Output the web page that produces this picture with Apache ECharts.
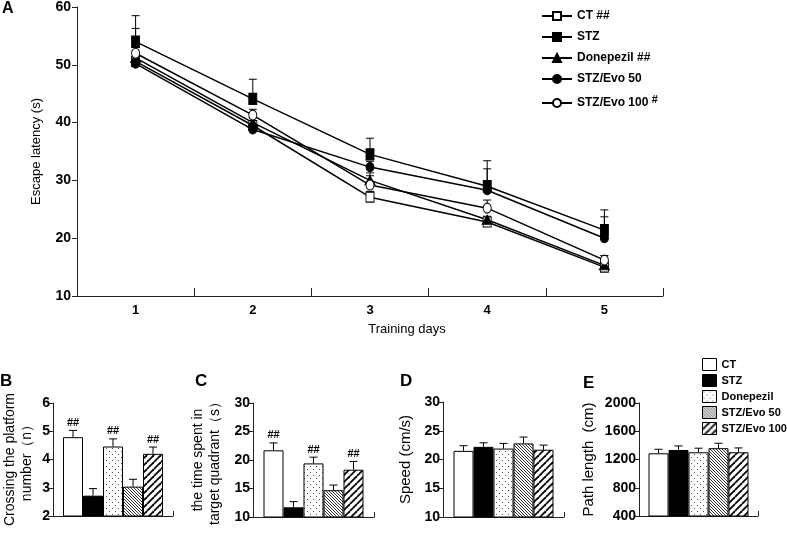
<!DOCTYPE html>
<html>
<head>
<meta charset="utf-8">
<script src="https://cdn.jsdelivr.net/npm/echarts@6/dist/echarts.min.js"></script>
<style>
html, body { margin: 0; padding: 0; background: #fff; }
#chart { width: 787px; height: 535px; }
</style>
</head>
<body>
<div id="chart"></div>
<script>
// groups and the significance marks shown in legend A
var groups = ['CT', 'STZ', 'Donepezil', 'STZ/Evo 50', 'STZ/Evo 100'];
var lineMarks = ['##', '', '##', '', '#'];
var days = ['1', '2', '3', '4', '5'];

// A: escape latency (s) per day, mean and upper error
var latencyCT = [50.6, 39.5, 27.1, 22.8, 15.0];
var latencySTZ = [54.0, 44.1, 34.5, 29.0, 21.4];
var latencyDon = [51.2, 40.0, 30.0, 23.2, 15.3];
var latencyEvo50 = [50.2, 38.8, 32.3, 28.3, 20.0];
var latencyEvo100 = [52.0, 41.3, 29.2, 25.2, 16.2];
var latencyErrCT = [0.8, 0.8, 1.0, 0.6, 0.5];
var latencyErrSTZ = [4.5, 3.4, 2.8, 4.4, 3.5];
var latencyErrDon = [0.8, 0.8, 0.8, 0.6, 0.5];
var latencyErrEvo50 = [6.1, 1.0, 1.0, 3.7, 3.7];
var latencyErrEvo100 = [1.0, 1.0, 2.1, 1.4, 0.8];

// B-E: one value per group
var crossing = [4.79, 2.72, 4.46, 3.04, 4.20];
var crossingErr = [0.24, 0.25, 0.27, 0.26, 0.24];
var crossingMarks = ['##', '', '##', '', '##'];
var quadrantTime = [21.7, 11.7, 19.4, 14.7, 18.3];
var quadrantErr = [1.3, 1.0, 1.1, 0.9, 1.45];
var quadrantMarks = ['##', '', '##', '', '##'];
var speed = [21.5, 22.2, 21.9, 22.8, 21.7];
var speedErr = [0.9, 0.7, 0.9, 1.1, 0.8];
var pathLength = [1288, 1335, 1302, 1360, 1302];
var pathLengthErr = [57, 57, 58, 70, 62];

var latency = [latencyCT, latencySTZ, latencyDon, latencyEvo50, latencyEvo100];
var latencyErr = [latencyErrCT, latencyErrSTZ, latencyErrDon, latencyErrEvo50, latencyErrEvo100];

var FONT = 'Liberation Sans';
var BAR_W = 20;

// hatch / dot fills for the bars
function makePattern(kind) {
  var c = document.createElement('canvas');
  var s = kind === 'dots' ? 6 : (kind === 'back' ? 3 : 7);
  c.width = s; c.height = s;
  var ctx = c.getContext('2d');
  ctx.fillStyle = '#fff';
  ctx.fillRect(0, 0, s, s);
  if (kind === 'dots') {
    ctx.fillStyle = '#555';
    ctx.fillRect(1, 1, 1, 1);
    ctx.fillRect(4, 4, 1, 1);
    return c;
  }
  ctx.strokeStyle = '#000';
  ctx.lineWidth = kind === 'back' ? 0.8 : 1.8;
  for (var k = -1; k <= 2; k++) {
    ctx.beginPath();
    if (kind === 'back') {
      ctx.moveTo(0, k * s); ctx.lineTo(s, s + k * s);
    } else {
      ctx.moveTo(0, k * s); ctx.lineTo(s, k * s - s);
    }
    ctx.stroke();
  }
  return c;
}

var fills = [
  '#fff',
  '#000',
  { image: makePattern('dots'), repeat: 'repeat' },
  { image: makePattern('back'), repeat: 'repeat' },
  { image: makePattern('fwd'), repeat: 'repeat' }
];

var symbols = ['rect', 'rect', 'triangle', 'circle', 'circle'];
var symbolFill = ['#fff', '#000', '#000', '#000', '#fff'];
var symbolSizes = [[8, 10], [8, 11], [10, 9], [8, 9], [8, 10]];

function capLines(x, y0, y1, half) {
  return [
    { type: 'line', shape: { x1: x, y1: y0, x2: x, y2: y1 }, style: { stroke: '#000', lineWidth: 1 } },
    { type: 'line', shape: { x1: x - half, y1: y1, x2: x + half, y2: y1 }, style: { stroke: '#000', lineWidth: 1 } }
  ];
}

// upper error bars for the line panel
function lineErrorItem(params, api) {
  var base = api.coord([api.value(0), api.value(1)]);
  var top = api.coord([api.value(0), api.value(1) + api.value(2)]);
  return { type: 'group', children: capLines(base[0], base[1], top[1], 4) };
}

// upper error bars (and ## marks) for the bar panels
function barErrorRenderer(marks) {
  return function (params, api) {
    var g = params.dataIndex;
    var base = api.coord([0, api.value(1)]);
    var top = api.coord([0, api.value(1) + api.value(2)]);
    var x = base[0] + (g - 2) * BAR_W;
    var children = capLines(x, base[1], top[1], 4);
    if (marks && marks[g]) {
      children.push({
        type: 'text',
        style: {
          text: marks[g], x: x, y: top[1] - 2, align: 'center', verticalAlign: 'bottom',
          font: 'bold 11px "' + FONT + '"', fill: '#000'
        }
      });
    }
    return { type: 'group', children: children };
  };
}

function valueAxis(gridIndex, min, max, interval, name, nameGap, nameSize, labelSize) {
  return {
    type: 'value', gridIndex: gridIndex, min: min, max: max, interval: interval,
    name: name, nameLocation: 'middle', nameGap: nameGap, nameRotate: 90,
    nameTextStyle: { fontFamily: FONT, fontSize: nameSize, color: '#000', lineHeight: nameSize + 3 },
    axisLine: { show: true, lineStyle: { color: '#222', width: 1 } },
    axisTick: { show: true, length: 5, lineStyle: { color: '#222' } },
    axisLabel: {
      fontFamily: FONT, fontSize: labelSize, fontWeight: 'bold', color: '#000',
      margin: gridIndex === 0 ? 6 : 3,
      formatter: function (v) { return String(v); }
    },
    splitLine: { show: false }
  };
}

function barCategoryAxis(gridIndex) {
  return {
    type: 'category', gridIndex: gridIndex, data: [''],
    axisLine: { onZero: false, lineStyle: { color: '#222' } },
    axisTick: { show: true, inside: true, length: 5, lineStyle: { color: '#222' } },
    axisLabel: { show: false }
  };
}

var xAxes = [{
  type: 'category', gridIndex: 0, data: days, boundaryGap: true,
  name: 'Training days', nameLocation: 'middle', nameGap: 27,
  nameTextStyle: { fontFamily: FONT, fontSize: 13, color: '#000', padding: [0, 0, 0, 74] },
  axisLine: { onZero: false, lineStyle: { color: '#222' } },
  axisTick: { show: true, inside: true, length: 8, lineStyle: { color: '#222' } },
  axisLabel: { fontFamily: FONT, fontSize: 13, fontWeight: 'bold', color: '#000', margin: 8 }
}];
var yAxes = [valueAxis(0, 10, 60, 10, 'Escape latency (s)', 33, 13, 14)];

var panels = [
  { values: crossing, errs: crossingErr, marks: crossingMarks, min: 2, max: 6, interval: 1,
    name: 'Crossing the platform\nnumber\uff08n\uff09', gap: 17, size: 14 },
  { values: quadrantTime, errs: quadrantErr, marks: quadrantMarks, min: 10, max: 30, interval: 5,
    name: 'the time spent in\ntarget quadrant\uff08s\uff09', gap: 29, size: 14 },
  { values: speed, errs: speedErr, marks: null, min: 10, max: 30, interval: 5,
    name: 'Speed (cm/s)', gap: 28, size: 15 },
  { values: pathLength, errs: pathLengthErr, marks: null, min: 400, max: 2000, interval: 400,
    name: 'Path length  (cm)', gap: 41, size: 15 }
];

var series = [];

// line series first so legend A picks up the line icons
groups.forEach(function (g, i) {
  series.push({
    type: 'line', name: g, xAxisIndex: 0, yAxisIndex: 0,
    data: latency[i], symbol: symbols[i], symbolSize: symbolSizes[i], showAllSymbol: true,
    lineStyle: { color: '#000', width: 1.5 },
    itemStyle: { color: symbolFill[i], borderColor: '#000', borderWidth: 1 },
    z: 3
  });
});
groups.forEach(function (g, i) {
  series.push({
    type: 'custom', name: g, xAxisIndex: 0, yAxisIndex: 0,
    data: latency[i].map(function (v, d) { return [d, v, latencyErr[i][d]]; }),
    renderItem: lineErrorItem, z: 2
  });
});

panels.forEach(function (p, k) {
  var gi = k + 1;
  xAxes.push(barCategoryAxis(gi));
  yAxes.push(valueAxis(gi, p.min, p.max, p.interval, p.name, p.gap, p.size, 14));
  groups.forEach(function (g, i) {
    series.push({
      type: 'bar', name: g, xAxisIndex: gi, yAxisIndex: gi,
      data: [p.values[i]], barWidth: BAR_W, barGap: '0%',
      itemStyle: { color: fills[i], borderColor: '#000', borderWidth: 1 }
    });
  });
  series.push({
    type: 'custom', xAxisIndex: gi, yAxisIndex: gi,
    data: p.values.map(function (v, i) { return [0, v, p.errs[i]]; }),
    renderItem: barErrorRenderer(p.marks), z: 3
  });
});

var option = {
  animation: false,
  backgroundColor: '#fff',
  grid: [
    { left: 77, top: 7, width: 586, height: 289 },
    { left: 53, top: 403, width: 120, height: 113 },
    { left: 253, top: 403, width: 121, height: 114 },
    { left: 443, top: 402, width: 121, height: 115 },
    { left: 639, top: 403, width: 119, height: 113 }
  ],
  xAxis: xAxes,
  yAxis: yAxes,
  legend: [{
    orient: 'vertical', left: 541, top: 10, padding: 0,
    itemWidth: 30, itemHeight: 10, itemGap: 9,
    data: groups,
    formatter: function (name) {
      var m = lineMarks[groups.indexOf(name)];
      if (!m) return name;
      return m.length === 1 ? name + ' {sup|' + m + '}' : name + ' ' + m;
    },
    textStyle: {
      fontFamily: FONT, fontSize: 12, fontWeight: 'bold', color: '#000',
      rich: { sup: { fontFamily: FONT, fontSize: 11, fontWeight: 'bold', padding: [0, 0, 7, 0] } }
    }
  }, {
    orient: 'vertical', left: 702, top: 358, padding: 0,
    itemWidth: 14, itemHeight: 12, itemGap: 3,
    data: groups.map(function (g, i) {
      return { name: g, icon: 'rect', itemStyle: { color: fills[i], borderColor: '#000', borderWidth: 1 } };
    }),
    textStyle: { fontFamily: FONT, fontSize: 11, fontWeight: 'bold', color: '#000' }
  }],
  graphic: [
    { type: 'text', left: 2, top: 1, style: { text: 'A', font: 'bold 16px "' + FONT + '"', fill: '#000' } },
    { type: 'text', left: 0, top: 373, style: { text: 'B', font: 'bold 17px "' + FONT + '"', fill: '#000' } },
    { type: 'text', left: 195, top: 373, style: { text: 'C', font: 'bold 17px "' + FONT + '"', fill: '#000' } },
    { type: 'text', left: 400, top: 373, style: { text: 'D', font: 'bold 17px "' + FONT + '"', fill: '#000' } },
    { type: 'text', left: 583, top: 375, style: { text: 'E', font: 'bold 17px "' + FONT + '"', fill: '#000' } }
  ],
  series: series
};

var chart = echarts.init(document.getElementById('chart'));
chart.setOption(option);
</script>
</body>
</html>
